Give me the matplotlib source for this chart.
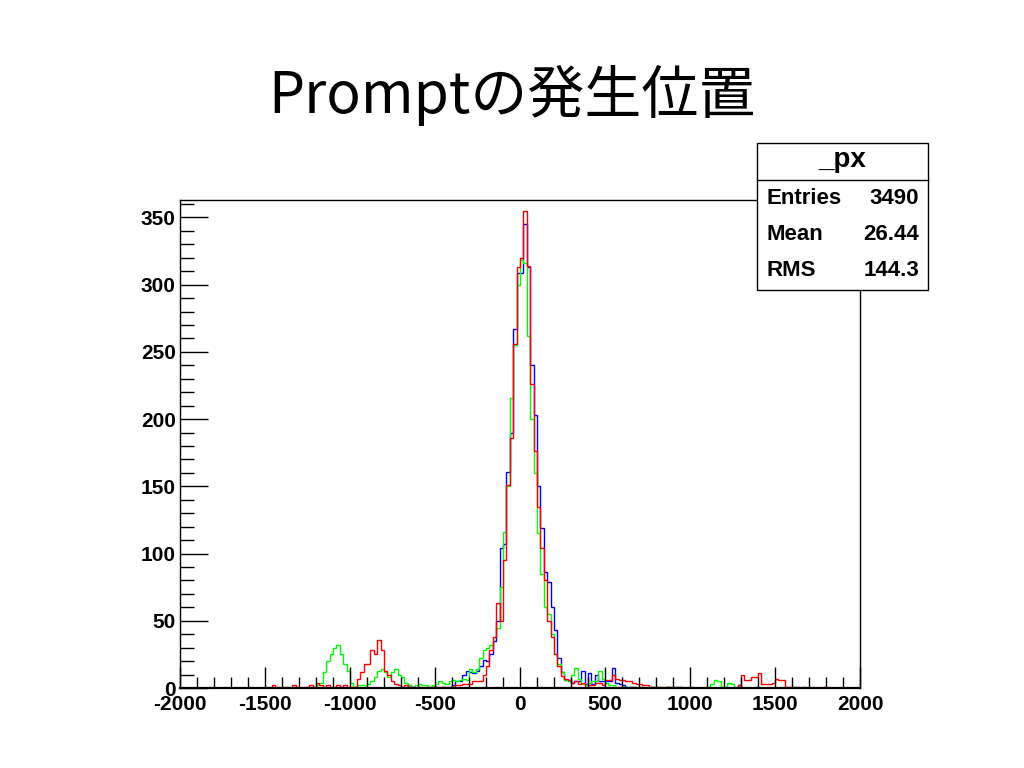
import numpy as np
import matplotlib
matplotlib.use("Agg")
import matplotlib.pyplot as plt
from matplotlib.ticker import MultipleLocator
from matplotlib.patches import Rectangle
from matplotlib.lines import Line2D

# ---------------- data ----------------
bin_lo, bin_hi, n_bins = -2000, 2000, 200

# 200 bins (20 units wide); each row covers 400 units, starting at -2000
blue_counts = (
    [0]*20 +                                                       # -2000..-1620
    [0]*20 +                                                       # -1600..-1220
    [0]*20 +                                                       # -1200..-820
    [0,0,0,0,0,0,0,2,1,0, 0,0,0,1,0,1,0,1,0,1] +                   # -800..-420
    [2,5,5,10,13,12,11,13,16,21, 20,25,35,50,104,107,161,190,267,309] +  # -400..-20
    [309,345,313,240,203,150,119,86,79,60, 43,22,12,6,6,4,5,5,13,3] +    # 0..380
    [11,3,10,5,5,5,5,15,4,3, 2,1,1,1,0,1,0,0,1,0] +               # 400..780
    [0,0,0,1,0,0,1,0,0,0, 0,0,0,0,0,0,0,0,0,0] +                   # 800..1180
    [0,0,0,0,2,0,0,0,0,1, 0,0,0,0,0,0,0,0,0,0] +                   # 1200..1580
    [0,0,0,1,0,0,0,0,0,0, 0,0,0,0,0,0,0,0,0,0]                     # 1600..1980
)
green_counts = (
    [0]*20 +
    [1,0,0,0,0,0,0,0,0,0, 0,0,0,0,0,0,0,0,0,0] +
    [2,4,12,20,25,30,32,25,18,13, 4,1,2,2,2,3,5,8,13,14] +
    [12,8,12,14,10,8,4,2,1,2, 3,2,2,1,2,3,5,4,3,5] +
    [6,5,6,7,6,14,12,14,22,28, 30,32,38,45,75,116,150,216,255,300] +
    [318,316,262,200,160,115,85,60,55,40, 25,18,12,6,5,10,15,7,3,2] +
    [4,5,5,13,7,4,2,2,1,1, 1,1,0,1,0,0,1,0,0,1] +
    [1,0,1,1,0,1,0,0,0,1, 0,0,0,0,0,1,3,6,5,1] +
    [1,4,3,1,0,0,0,0,0,0, 0,0,0,0,0,0,0,0,0,0] +
    [0]*20
)
red_counts = (
    [0]*20 +
    [0,0,0,0,0,1,0,2,1,0, 1,1,0,2,1,0,1,1,2,1] +
    [4,2,1,2,1,1,2,1,2,1, 1,1,7,12,18,18,28,25,36,28] +
    [13,10,5,3,2,1,2,1,1,0, 1,0,1,0,1,1,1,1,1,1] +
    [1,2,2,3,3,3,5,5,5,10, 16,28,38,63,50,95,151,186,256,313] +
    [320,355,314,226,176,135,104,80,50,38, 25,16,9,7,6,4,5,3,4,0] +
    [2,2,4,4,2,6,6,10,7,6, 6,5,5,4,3,3,2,2,1,1] +
    [1,1,0,1,1,0,0,1,0,0, 1,0,0,0,0,0,0,0,0,0] +
    [0,0,0,0,2,10,6,6,8,8, 11,3,3,3,4,7,6,6,1,1] +
    [1,1,0,0,0,0,0,0,0,1, 1,0,0,0,0,0,0,0,0,0]
)

title_text = "Promptの発生位置"
stats_title = "_px"
stats_labels = ["Entries", "Mean", "RMS"]
stats_values = ["3490", "26.44", "144.3"]
x_ticks = [-2000, -1500, -1000, -500, 0, 500, 1000, 1500, 2000]
y_ticks = [0, 50, 100, 150, 200, 250, 300, 350]

# ---------------- figure ----------------
W, H = 1024, 768
fig = plt.figure(figsize=(W/100, H/100), dpi=100)
fig.patch.set_facecolor("white")

ax = fig.add_axes([180/W, (H-688)/H, 680/W, 488/H])
edges = np.linspace(bin_lo, bin_hi, n_bins + 1)
ax.stairs(blue_counts, edges, color=(0, 0, 1), lw=1.0, baseline=0)
ax.stairs(green_counts, edges, color=(0, 1, 0), lw=1.0, baseline=0)
ax.stairs(red_counts, edges, color=(1, 0, 0), lw=1.0, baseline=0)

ax.set_xlim(bin_lo, bin_hi)
ax.set_ylim(0, 363)

tick_font = dict(family="Liberation Sans", weight="bold", size=15)
ax.set_xticks(x_ticks)
ax.set_xticklabels([str(v) for v in x_ticks], **tick_font)
ax.set_yticks(y_ticks)
ax.set_yticklabels([str(v) for v in y_ticks], **tick_font)
ax.xaxis.set_minor_locator(MultipleLocator(100))
ax.yaxis.set_minor_locator(MultipleLocator(10))
ax.tick_params(axis="x", which="major", direction="in", length=15, width=1, pad=5,
               top=False, bottom=True)
ax.tick_params(axis="x", which="minor", direction="in", length=8, width=1,
               top=False, bottom=True)
ax.tick_params(axis="y", which="major", direction="in", length=20, width=1, pad=3,
               right=False, left=True)
ax.tick_params(axis="y", which="minor", direction="in", length=10, width=1,
               right=False, left=True)
for sp in ax.spines.values():
    sp.set_linewidth(1.0)
    sp.set_color("black")
ax.spines["bottom"].set_linewidth(1.6)

# title
fig.text(0.5, 1 - 95/H, title_text, ha="center", va="center",
         fontsize=41, family=["Noto Sans CJK JP", "DejaVu Sans"])

# stats box
bx0, bx1 = 757/W, 928/W
by_top, by_bot = 1 - 143/H, 1 - 290/H
fig.patches.append(Rectangle((bx0, by_bot), bx1 - bx0, by_top - by_bot,
                             transform=fig.transFigure, facecolor="white",
                             edgecolor="black", lw=1.0, zorder=5))
fig.lines.append(Line2D([bx0, bx1], [1 - 180/H, 1 - 180/H],
                        transform=fig.transFigure, color="black", lw=1.0, zorder=6))
fig.text((bx0 + bx1)/2, 1 - 160/H, stats_title, ha="center", va="center",
         family="Liberation Sans", weight="bold", size=20, zorder=7)
row_y = [198, 235, 270]
for lab, val, yy in zip(stats_labels, stats_values, row_y):
    fig.text(766/W, 1 - yy/H, lab, ha="left", va="center",
             family="Liberation Sans", weight="bold", size=16, zorder=7)
    fig.text(919/W, 1 - yy/H, val, ha="right", va="center",
             family="Liberation Sans", weight="bold", size=16, zorder=7)

fig.savefig("out.png", dpi=100, facecolor="white")
